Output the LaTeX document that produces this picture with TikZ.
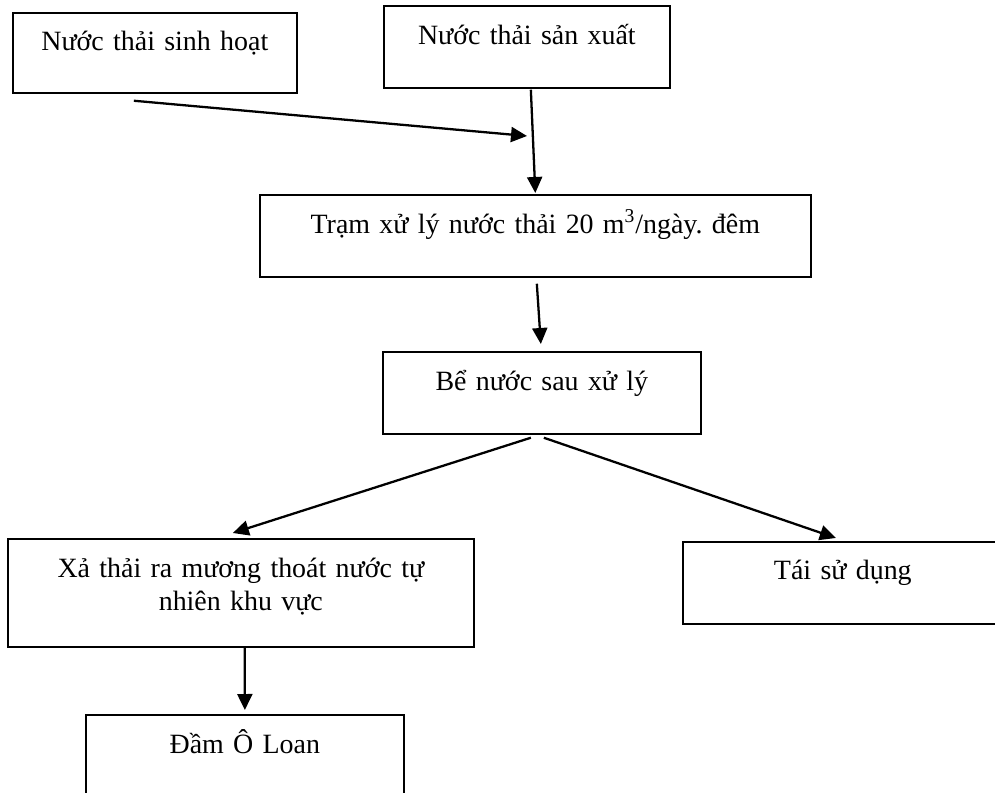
\documentclass[tikz,border=0pt]{standalone}
\usepackage{fontspec}
\setmainfont{Liberation Serif}
\usetikzlibrary{arrows.meta,calc}
\frenchspacing

\begin{document}
\begin{tikzpicture}[
    x=0.02cm, y=-0.02cm,
    >={Triangle[length=0.32cm,width=0.3cm]},
    box/.style={
      rectangle,
      draw=black,
      line width=1pt,
      anchor=north west,
      align=center,
      inner sep=0pt,
      font=\fontsize{15.9pt}{18.8pt}\selectfont
    },
    arrow/.style={->, draw=black, line width=1.3pt}
  ]
  \useasboundingbox (0,0) rectangle (995,793);
  \clip (0,0) rectangle (995,793);

  \node[box, text width=5.68cm, text height=0.76cm, text depth=0.84cm] (sinhhoat) at (12,12) {Nước thải sinh hoạt};
  \node[box, text width=5.72cm, text height=0.78cm, text depth=0.86cm] (sanxuat) at (383,5) {Nước thải sản xuất};
  \node[box, text width=11.02cm, text height=0.78cm, text depth=0.86cm] (tram) at (259,194) {Trạm xử lý nước thải 20 m\textsuperscript{3}/ngày. đêm};
  \node[box, text width=6.36cm, text height=0.78cm, text depth=0.86cm] (be) at (382,351) {Bể nước sau xử lý};
  \node[box, text width=9.32cm, text height=0.78cm, text depth=1.38cm] (xathai) at (7,538) {Xả thải ra mương thoát nước tự\\nhiên khu vực};
  \node[box, text width=6.4cm, text height=0.76cm, text depth=0.88cm] (taisd) at (682,541) {Tái sử dụng};
  \node[box, text width=6.36cm, text height=0.78cm, text depth=0.94cm] (dam) at (85,714) {Đầm Ô Loan};
  \coordinate (merge) at (527,136);

  \draw[arrow] ($(sinhhoat.south)+(-21,7)$) -- (merge);
  \draw[arrow] ($(sanxuat.south)+(4,1)$) -- ($(tram.north)+(0,-1)$);
  \draw[arrow] ($(tram.south)+(1.5,6)$) -- ($(be.north)+(-1,-7)$);
  \draw[arrow] ($(be.south)+(-11,3)$) -- ($(xathai.north)+(-8,-5)$);
  \draw[arrow] ($(be.south)+(2,3)$) -- ($(taisd.north)+(-7,-3)$);
  \draw[arrow] ($(xathai.south)+(4,0)$) -- ($(dam.north)+(0,-4)$);

\end{tikzpicture}
\end{document}
